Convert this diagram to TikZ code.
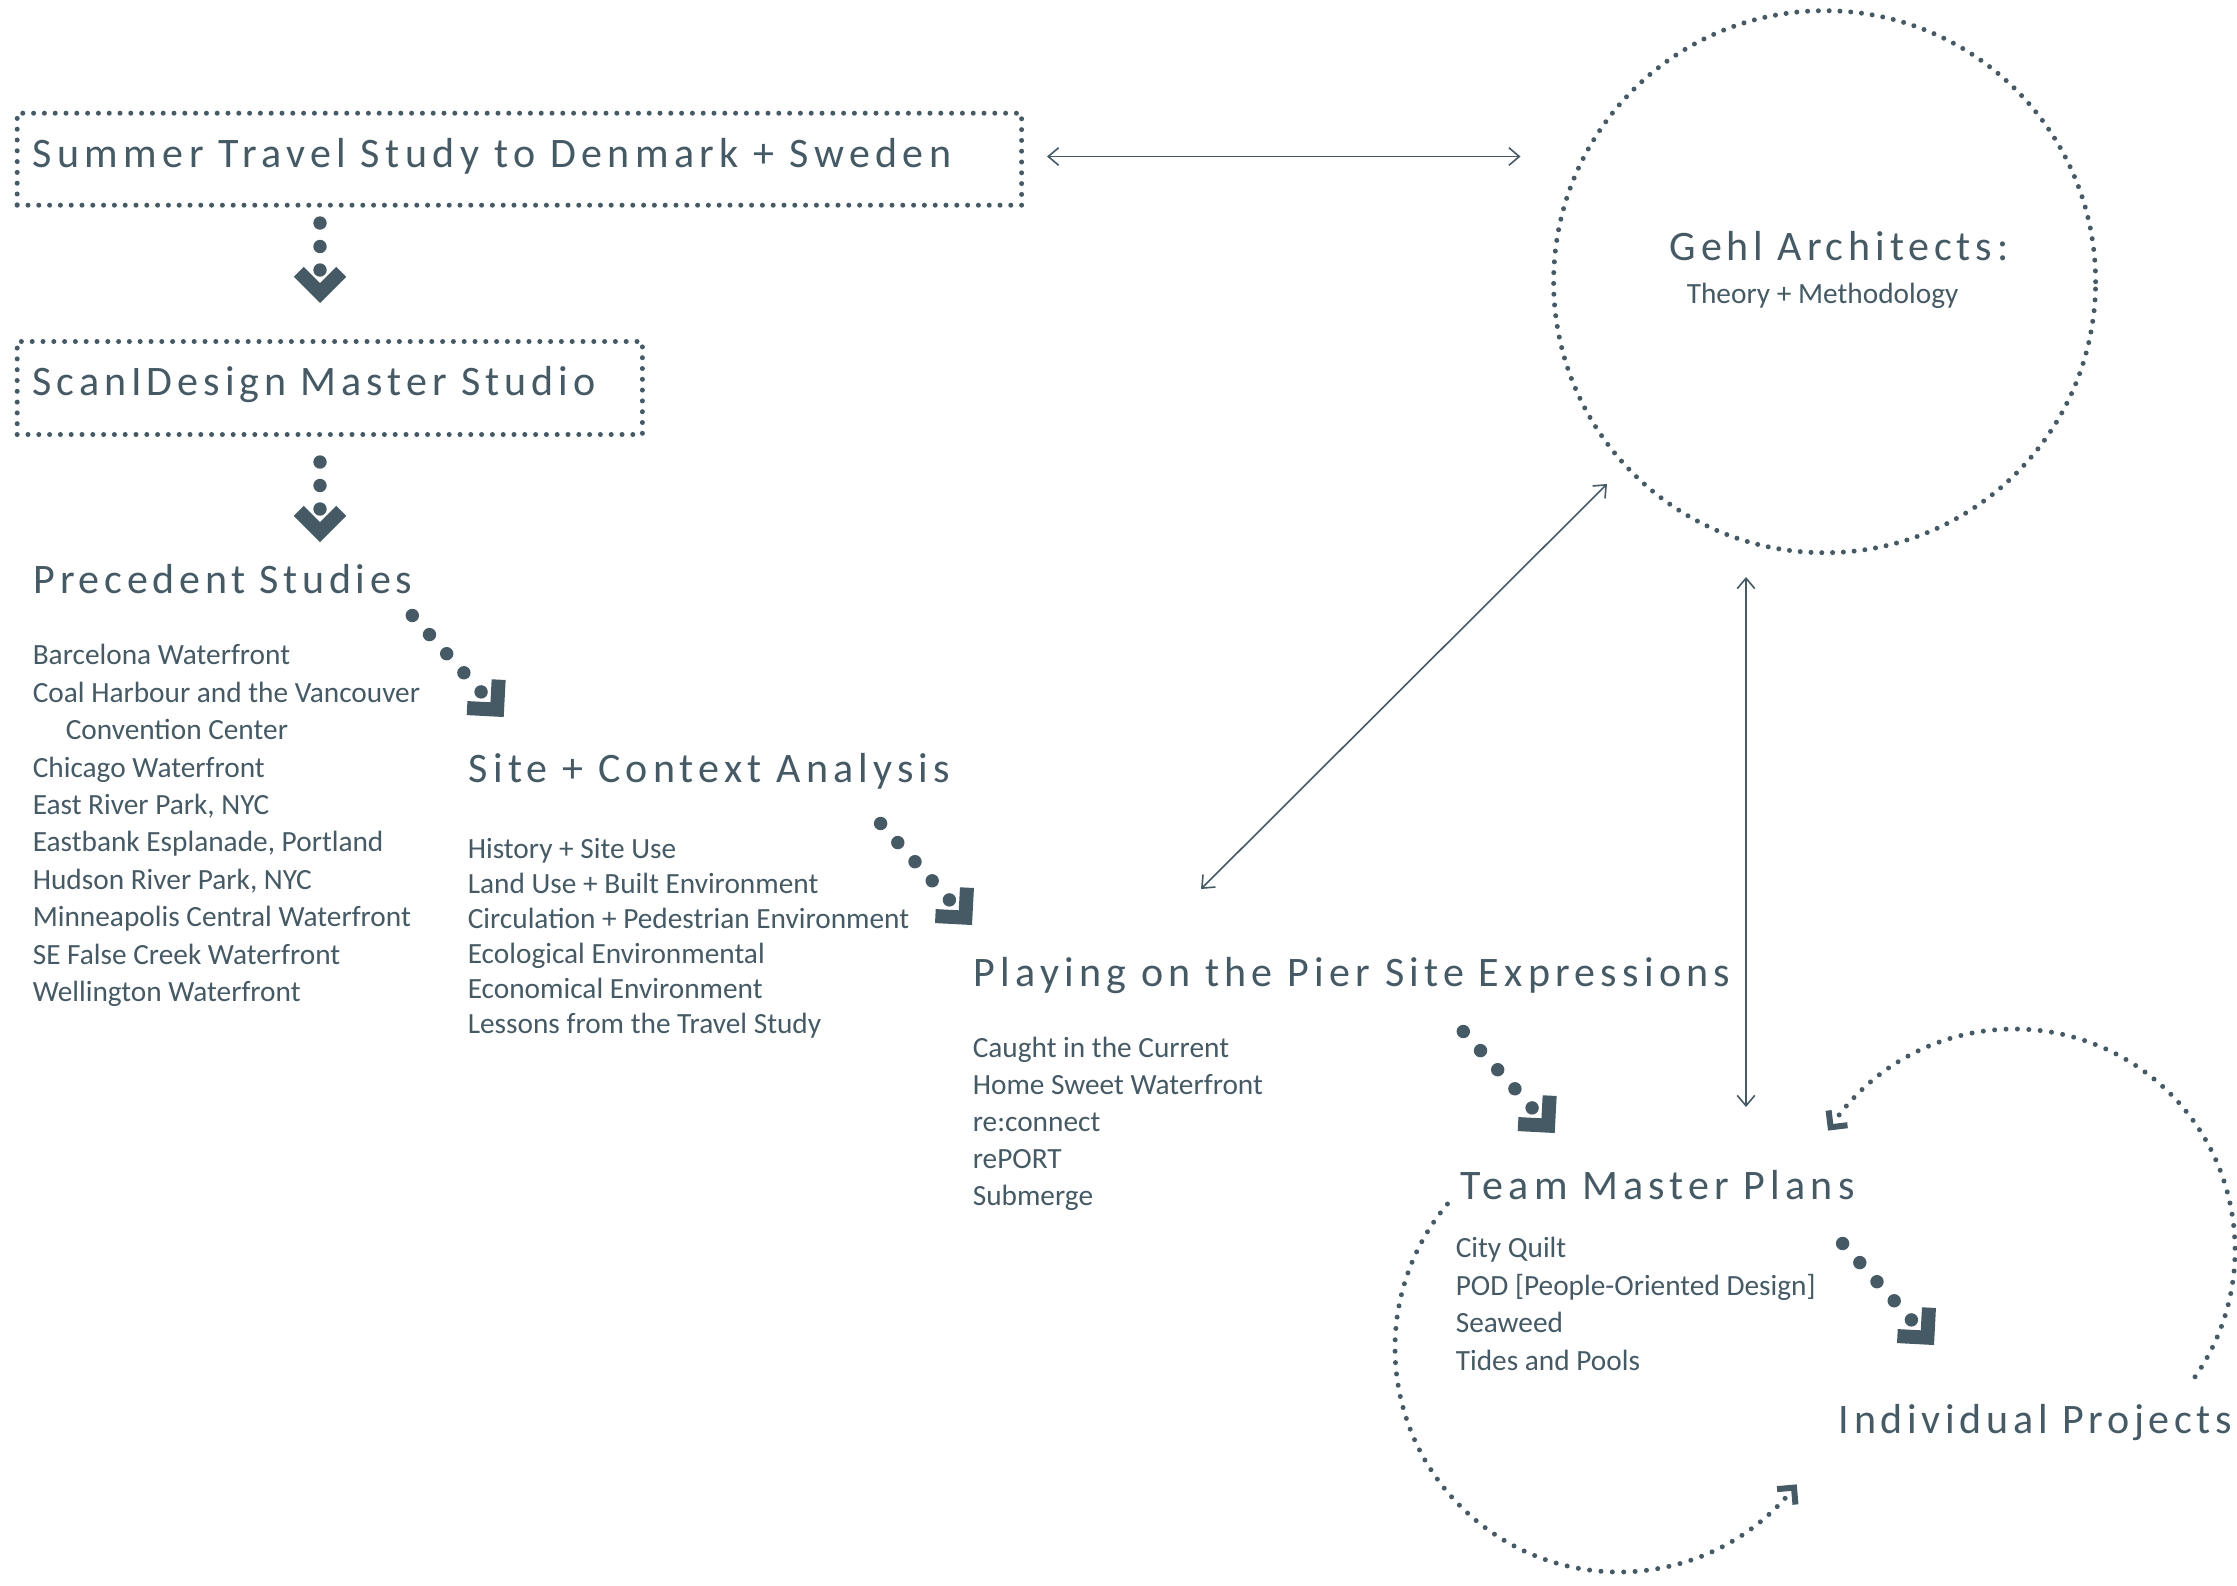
\documentclass[tikz,border=0pt]{standalone}
\usepackage{fontspec}
\setmainfont{Carlito}
\usetikzlibrary{arrows.meta,calc}
\definecolor{ink}{HTML}{455A65}
\tikzset{
  heading/.style={anchor=base west, inner sep=0pt, text=ink, font={\fontspec[LetterSpace=#1]{Carlito}\fontsize{10.5}{12.6}\selectfont}},
  heading/.default=12.5,
  item/.style={anchor=base west, inner sep=0pt, text=ink, font=\fontsize{7.33}{8.8}\selectfont},
  dotline/.style={draw=ink, line width=1.25pt, line cap=round, dash pattern=on 0pt off 2.7pt},
  arcdot/.style={draw=ink, line width=1.25pt, line cap=round, dash pattern=on 0pt off 2.85pt},
  thinarrow/.style={draw=ink, line width=0.4pt, {Straight Barb[length=2.6pt,width=4.4pt]}-{Straight Barb[length=2.6pt,width=4.4pt]}},
  pics/bigarrow/.style args={#1/#2/#3}{
    code={
      \fill[ink] (0,0) -- (-26.2,-26.2) -- (-36.1,-16.3) -- (-19.8,0) -- (-36.1,16.3) -- (-26.2,26.2) -- cycle;
      \foreach \k in {1,...,#1} \fill[ink] ({-#3-(\k-1)*#2},0) circle[radius=1.675pt];
    }
  },
  pics/smallhead/.style={
    code={
      \fill[ink] (0,0) -- (-14.1,-14.1) -- (-18.4,-9.9) -- (-8.5,0) -- (-18.4,9.9) -- (-14.1,14.1) -- cycle;
    }
  }
}
\begin{document}
\begin{tikzpicture}[x=0.25pt,y=-0.25pt]
\path[fill=white,use as bounding box] (0,0) rectangle (2237,1585);

% boxes
\node[dotline, rectangle, inner sep=0pt, minimum width=251.1pt, minimum height=23pt, anchor=north west] (summer) at (14.7,110.7) {};
\node[heading=12.9] (summerT) at (32,167) {Summer Travel Study to Denmark + Sweden};
\node[dotline, rectangle, inner sep=0pt, minimum width=156.3pt, minimum height=23.25pt, anchor=north west] (scan) at (14.7,339) {};
\node[heading=11.8] (scanT) at (32,395) {ScanIDesign Master Studio};

% Gehl circle
\node[dotline, circle, inner sep=0pt, minimum size=135.5pt] (gehl) at (1824.6,281.7) {};
\node[heading=11.6] (gehlT) at (1669,260) {Gehl Architects:};
\node[item] (theory) at (1686,303) {Theory + Methodology};

% Precedent
\node[heading=11.2] (prec) at (33,593) {Precedent Studies};
\node[item] (p1) at (32,664.5) {Barcelona Waterfront};
\node[item] (p2) at (32,702) {Coal Harbour and the Vancouver};
\node[item] (p3) at (65,739.5) {Convention Center};
\node[item] (p4) at (32,777) {Chicago Waterfront};
\node[item] (p5) at (32,814.5) {East River Park, NYC};
\node[item] (p6) at (32,851.5) {Eastbank Esplanade, Portland};
\node[item] (p7) at (32,889) {Hudson River Park, NYC};
\node[item] (p8) at (32,926.5) {Minneapolis Central Waterfront};
\node[item] (p9) at (32,964) {SE False Creek Waterfront};
\node[item] (p10) at (32,1001.5) {Wellington Waterfront};

% Site
\node[heading=12.4] (site) at (468,782) {Site + Context Analysis};
\node[item] (s1) at (467,858) {History + Site Use};
\node[item] (s2) at (467,893.1) {Land Use + Built Environment};
\node[item] (s3) at (467,928.2) {Circulation + Pedestrian Environment};
\node[item] (s4) at (467,963.3) {Ecological Environmental};
\node[item] (s5) at (467,998.4) {Economical Environment};
\node[item] (s6) at (467,1033.5) {Lessons from the Travel Study};

% Playing
\node[heading=12.5] (play) at (973,986) {Playing on the Pier Site Expressions};
\node[item] (e1) at (972,1057.5) {Caught in the Current};
\node[item] (e2) at (972,1094.5) {Home Sweet Waterfront};
\node[item] (e3) at (972,1131.5) {re:connect};
\node[item] (e4) at (972,1168.5) {rePORT};
\node[item] (e5) at (972,1205.5) {Submerge};

% Team
\node[heading=12.3] (team) at (1460,1199) {Team Master Plans};
\node[item] (t1) at (1455,1257.5) {City Quilt};
\node[item] (t2) at (1455,1295) {POD [People-Oriented Design]};
\node[item] (t3) at (1455,1332.5) {Seaweed};
\node[item] (t4) at (1455,1370) {Tides and Pools};

% Individual
\node[heading=11.2] (indiv) at (1838,1433.5) {Individual Projects};

% dotted chevron arrows
\coordinate (d1) at (320,303);
\coordinate (d2) at (320,542);
\pic[rotate=-90] at (d1) {bigarrow=3/23.5/33};
\pic[rotate=-90] at (d2) {bigarrow=3/23.5/33};
\coordinate (g1) at (503.7,717);
\coordinate (g2) at (972,925);
\coordinate (g3) at (1554.7,1133);
\coordinate (g4) at (1934,1345);
\pic[rotate=-48] at (g1) {bigarrow=5/25.7/33.8};
\pic[rotate=-48] at (g2) {bigarrow=5/25.7/33.8};
\pic[rotate=-48] at (g3) {bigarrow=5/25.7/33.8};
\pic[rotate=-48] at (g4) {bigarrow=5/25.7/33.8};

% thin double arrows
\coordinate (h1) at (1047,156.5);
\coordinate (h2) at (1520.5,156.5);
\draw[thinarrow] (h1) -- (h2);
\coordinate (k1) at (1201,889);
\coordinate (k2) at (1607,484);
\draw[thinarrow] (k1) -- (k2);
\coordinate (v1) at (1746,577);
\coordinate (v2) at (1746,1107);
\draw[thinarrow] (v1) -- (v2);

% cycle arcs
\coordinate (c1) at (1619,1348);
\draw[arcdot] ($(c1)+(140:56pt)$) arc[start angle=140, end angle=318, radius=56pt];
\pic[rotate=50] at ($(c1)+(-37.5:56pt)$) {smallhead};
\coordinate (c2) at (2014,1250);
\draw[arcdot] ($(c2)+(-35:55.25pt)$) arc[start angle=-35, end angle=143, radius=55.25pt];
\pic[rotate=232] at ($(c2)+(147.3:55.25pt)$) {smallhead};
\end{tikzpicture}
\end{document}
